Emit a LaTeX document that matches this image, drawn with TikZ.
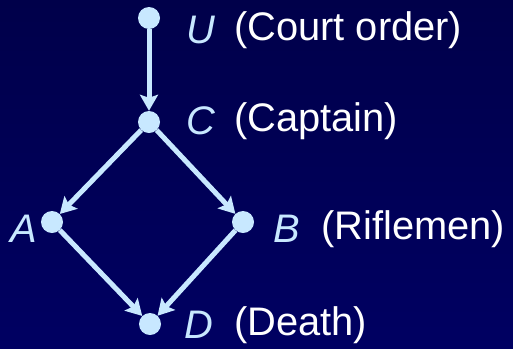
\documentclass[tikz,border=0pt]{standalone}
\usepackage{fontspec}
\setmainfont{Liberation Sans}
\usetikzlibrary{arrows.meta}
\definecolor{nodeblue}{HTML}{C8E8FF}
\definecolor{bgtop}{HTML}{00004A}
\definecolor{bgbot}{HTML}{000062}
\tikzset{
  dot/.style={circle,fill=nodeblue,inner sep=0pt,minimum size=22bp},
  conn/.style={draw=nodeblue,line width=5bp,-{Stealth[length=16bp,width=18bp,inset=3bp]}},
  var/.style={text=nodeblue,font=\fontsize{40}{40}\selectfont\itshape,inner sep=0pt},
  desc/.style={text=white,font=\fontsize{40}{40}\selectfont,inner sep=0pt}
}
\begin{document}
\begin{tikzpicture}[x=1bp,y=-1bp]
\shade[top color=bgtop,bottom color=bgbot] (0,0) rectangle (513,348);
\useasboundingbox (0,0) rectangle (513,348);
\node[dot] (U) at (149,18) {};
\node[dot] (C) at (149,122) {};
\node[dot] (A) at (52,222) {};
\node[dot] (B) at (243,222) {};
\node[dot] (D) at (150,324) {};
\draw[conn] (U) -- (C);
\draw[conn] (C) -- (A);
\draw[conn] (C) -- (B);
\draw[conn] (A) -- (D);
\draw[conn] (B) -- (D);
\node[var,anchor=west] (uL) at (186,30) {U};
\node[desc,anchor=west] (uD) at (234,30) {(Court order)};
\node[var,anchor=west] (cL) at (186,121) {C};
\node[desc,anchor=west] (cD) at (234,121) {(Captain)};
\node[var,anchor=west] (aL) at (10,229) {A};
\node[var,anchor=west] (bL) at (273,229) {B};
\node[desc,anchor=west] (bD) at (321,229) {(Riflemen)};
\node[var,anchor=west] (dL) at (184,325) {D};
\node[desc,anchor=west] (dD) at (234,325) {(Death)};
\end{tikzpicture}
\end{document}
